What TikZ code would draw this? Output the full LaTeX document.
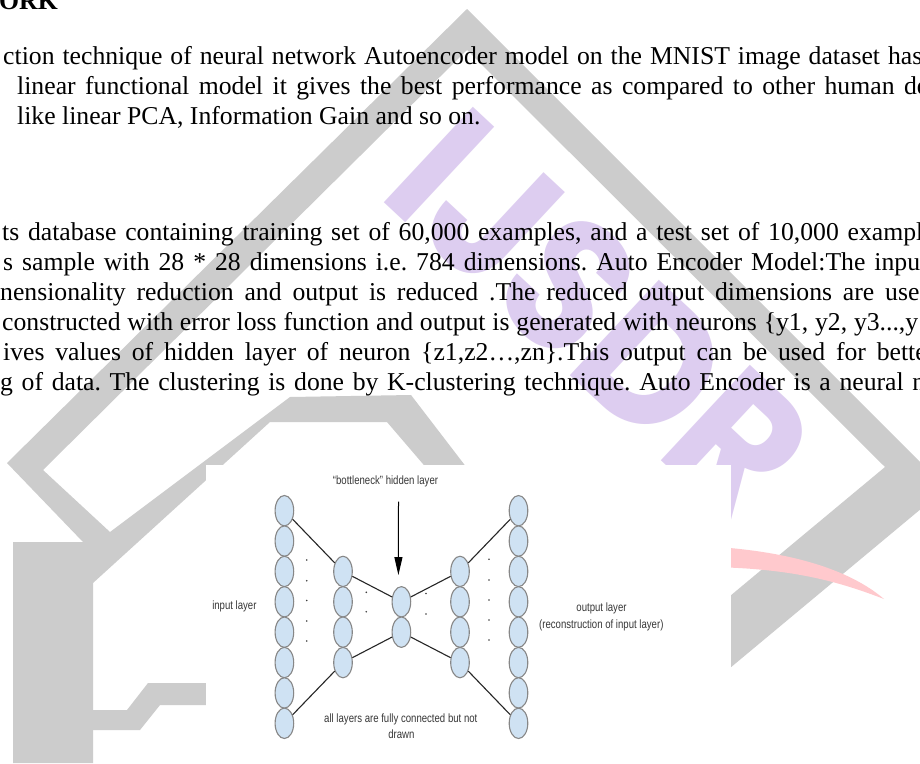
\documentclass[tikz,border=0pt]{standalone}
\usepackage{fontspec}
\setmainfont{Liberation Serif}
\newfontfamily\diagfont{Liberation Sans}
\newfontfamily\logofont{Poppins}
\usetikzlibrary{shapes.geometric,arrows.meta}
\definecolor{wmgray}{RGB}{204,204,204}
\definecolor{wmpurple}{RGB}{221,205,240}
\definecolor{wmpink}{RGB}{255,201,205}
\definecolor{nfill}{RGB}{207,226,243}
\definecolor{ndraw}{RGB}{135,135,135}
\definecolor{dtext}{RGB}{55,55,55}
\frenchspacing
\begin{document}
\begin{tikzpicture}[x=1pt,y=-1pt,
  neuron/.style={ellipse, draw=ndraw, fill=nfill, line width=1.1pt, minimum width=18.6pt, minimum height=30.4pt, inner sep=0pt},
  body/.style={anchor=base west, inner sep=0pt, font=\fontsize{25.7}{30}\selectfont},
  heading/.style={anchor=base west, inner sep=0pt, font=\fontsize{25.7}{30}\selectfont\bfseries},
  dlabel/.style={inner sep=0pt, anchor=base, text=dtext, font=\diagfont\fontsize{12}{16}\selectfont, xscale=0.8},
  link/.style={line width=1.1pt, black!85},
  pointer/.style={line width=1pt, black, -{Triangle[length=18pt,width=8pt]}},
  dotmark/.style={fill=black!75}]
\useasboundingbox (0,0) rectangle (920,763);
\clip (0,0) rectangle (920,763);
\fill[white] (0,0) rectangle (920,763);
% watermark: gray outline
\fill[wmgray] (7,463) -- (467,9) -- (946,488) -- (700,693) -- (700,621) -- (885,467)
  -- (467,50) -- (43,470) -- (110,532) -- (290,397) -- (411,395) -- (480,485)
  -- (441,485) -- (387,422) -- (270,422) -- (93,583) -- (93,763) -- (13,763)
  -- (13,542) -- (83,542) -- cycle;
\fill[wmgray] (93,710) -- (127,710) -- (148,683) -- (206,683) -- (206,705)
  -- (160,705) -- (140,730) -- (93,730) -- cycle;
% watermark: purple letters
\node[anchor=base west, inner sep=0pt, rotate=-43, xscale=0.92, text=wmpurple,
  font=\logofont\bfseries\fontsize{186}{186}\selectfont] (logo) at (376,195) {IJSDR};
% watermark: pink arc
\fill[wmpink] (700,546) .. controls (790,550) and (850,570) .. (884,599)
  .. controls (840,582) and (790,567) .. (700,567) -- cycle;
% body text
\node[heading] (h) at (-1,9) {ORK};
\node[body] (p1) at (3,64) {\makebox[919pt][s]{ction technique of neural network Autoencoder model on the MNIST image dataset has}};
\node[body] (p2) at (17,94) {\makebox[911pt][s]{linear functional model it gives the best performance as compared to other human de}};
\node[body] (p3) at (17,124) {like linear PCA, Information Gain and so on.};
\node[body] (q1) at (2,240) {\makebox[921pt][s]{ts database containing training set of 60,000 examples, and a test set of 10,000 exampl}};
\node[body] (q2) at (3,270) {\makebox[924pt][s]{s sample with 28 * 28 dimensions i.e. 784 dimensions. Auto Encoder Model:The input}};
\node[body] (q3) at (0,300) {\makebox[932pt][s]{nensionality reduction and output is reduced .The reduced output dimensions are used}};
\node[body] (q4) at (2,330) {\makebox[916pt][s]{constructed with error loss function and output is generated with neurons \{y1, y2, y3...,y}};
\node[body] (q5) at (3,360) {\makebox[932pt][s]{ives values of hidden layer of neuron \{z1,z2…,zn\}.This output can be used for better}};
\node[body] (q6) at (0,390) {\makebox[925pt][s]{g of data. The clustering is done by K-clustering technique. Auto Encoder is a neural n}};
% figure
\fill[white] (206,465) rectangle (731,763);
\foreach \k in {1,...,8} \node[neuron] (a\k) at (284.4,{510.7+30.37*(\k-1)}) {};
\foreach \k in {3,...,6} \node[neuron] (b\k) at (343,{510.7+30.37*(\k-1)}) {};
\foreach \k in {4,5} \node[neuron] (c\k) at (401.4,{510.7+30.37*(\k-1)}) {};
\foreach \k in {3,...,6} \node[neuron] (d\k) at (460,{510.7+30.37*(\k-1)}) {};
\foreach \k in {1,...,8} \node[neuron] (e\k) at (518.5,{510.7+30.37*(\k-1)}) {};
\draw[link] (a1) -- (b3);
\draw[link] (a8) -- (b6);
\draw[link] (b3) -- (c4);
\draw[link] (b6) -- (c5);
\draw[link] (c4) -- (d3);
\draw[link] (c5) -- (d6);
\draw[link] (d3) -- (e1);
\draw[link] (d6) -- (e8);
\coordinate (arrtop) at (398.5,501.5);
\draw[pointer] (arrtop) -- ([xshift=-3pt,yshift=11pt]c4.north);
\foreach \y in {560,580.7,600.5,621,641} \fill[dotmark] (306.7,\y) circle (0.9pt);
\foreach \y in {592.3,611.7} \fill[dotmark] (366.3,\y) circle (0.9pt);
\foreach \y in {593.5,614} \fill[dotmark] (426,\y) circle (0.9pt);
\foreach \y in {559.3,580,600,620,640} \fill[dotmark] (489,\y) circle (0.9pt);
\node[dlabel] (lbn) at (385.5,484) {“bottleneck” hidden layer};
\node[dlabel] (lin) at (234.4,609.3) {input layer};
\node[dlabel] (lout1) at (601.5,611) {output layer};
\node[dlabel] (lout2) at (601.3,628.3) {(reconstruction of input layer)};
\node[dlabel] (lall1) at (400.8,722) {all layers are fully connected but not};
\node[dlabel] (lall2) at (401.4,738) {drawn};
\end{tikzpicture}
\end{document}
